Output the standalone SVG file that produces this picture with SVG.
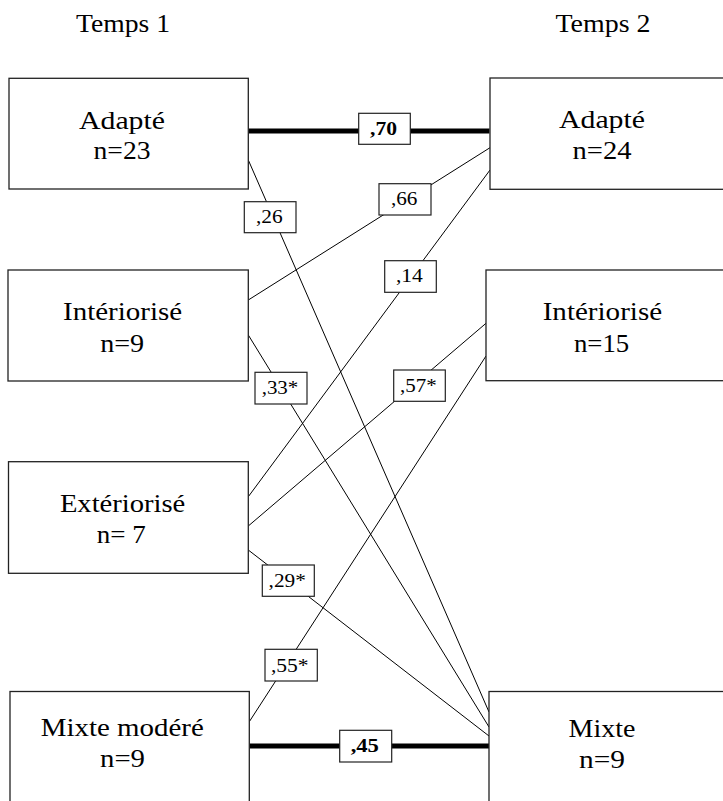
<svg xmlns="http://www.w3.org/2000/svg" width="723" height="801" viewBox="0 0 723 801">
<style>
.box{fill:#fff;stroke:#222;stroke-width:1.3}
.lbl{fill:#fff;stroke:#222;stroke-width:1.2}
.t{font-size:26px;fill:#000;text-anchor:middle}
.v{font-size:19.5px;fill:#000;text-anchor:middle}
.b{font-weight:bold}
.thin{stroke:#000;stroke-width:1;fill:none}
.thick{stroke:#000;stroke-width:5;fill:none}
</style>
<rect width="723" height="801" fill="#fff"/>
<g font-family="Liberation Serif, Times New Roman, serif">
<g id="headers">
<text class="t" x="123" y="32" textLength="94" lengthAdjust="spacingAndGlyphs">Temps 1</text>
<text class="t" x="603" y="32" textLength="95" lengthAdjust="spacingAndGlyphs">Temps 2</text>
</g>
<g id="connectors">
<line class="thick" x1="248.5" y1="131" x2="489.5" y2="131"/>
<line class="thick" x1="249.5" y1="746" x2="489" y2="746"/>
<line class="thin" x1="248.3" y1="160" x2="489" y2="712"/>
<line class="thin" x1="248.3" y1="335" x2="489" y2="727"/>
<line class="thin" x1="248.3" y1="550" x2="489" y2="736"/>
<line class="thin" x1="248.3" y1="300" x2="490" y2="147.7"/>
<line class="thin" x1="248.3" y1="496.7" x2="490" y2="170"/>
<line class="thin" x1="248.3" y1="526" x2="486" y2="323.3"/>
<line class="thin" x1="249.3" y1="721.7" x2="486" y2="356"/>
<g id="lbl70"><rect class="lbl" x="358.7" y="113.3" width="51.6" height="31"/><text class="v b" x="383.5" y="134.5" textLength="27" lengthAdjust="spacingAndGlyphs">,70</text></g>
<g id="lbl26"><rect class="lbl" x="244.3" y="201.7" width="51.7" height="31"/><text class="v" x="269.3" y="223" textLength="26.7" lengthAdjust="spacingAndGlyphs">,26</text></g>
<g id="lbl66"><rect class="lbl" x="379" y="183.7" width="52" height="31.3"/><text class="v" x="404.2" y="205.2" textLength="26.5" lengthAdjust="spacingAndGlyphs">,66</text></g>
<g id="lbl14"><rect class="lbl" x="384.7" y="260.7" width="51.6" height="31.6"/><text class="v" x="409.4" y="282" textLength="27" lengthAdjust="spacingAndGlyphs">,14</text></g>
<g id="lbl33"><rect class="lbl" x="255" y="372.3" width="52" height="31.7"/><text class="v" x="280" y="394" textLength="36.7" lengthAdjust="spacingAndGlyphs">,33*</text></g>
<g id="lbl57"><rect class="lbl" x="393.7" y="370" width="51.6" height="31.3"/><text class="v" x="418.4" y="391.7" textLength="36.7" lengthAdjust="spacingAndGlyphs">,57*</text></g>
<g id="lbl29"><rect class="lbl" x="262.3" y="565" width="52" height="31.3"/><text class="v" x="287.2" y="587" textLength="37.3" lengthAdjust="spacingAndGlyphs">,29*</text></g>
<g id="lbl55"><rect class="lbl" x="265" y="649.3" width="52.3" height="31.7"/><text class="v" x="289.8" y="671.5" textLength="37.7" lengthAdjust="spacingAndGlyphs">,55*</text></g>
<g id="lbl45"><rect class="lbl" x="339.7" y="730.3" width="52" height="31.7"/><text class="v b" x="364.8" y="751.7" textLength="28.3" lengthAdjust="spacingAndGlyphs">,45</text></g>
</g>
<g id="t1-adapte">
<rect class="box" x="9" y="78.3" width="239.3" height="110.7"/>
<text class="t" x="122" y="128.5" textLength="86" lengthAdjust="spacingAndGlyphs">Adapté</text>
<text class="t" x="122" y="159.3" textLength="57" lengthAdjust="spacingAndGlyphs">n=23</text>
</g>
<g id="t1-interiorise">
<rect class="box" x="8" y="270" width="240.3" height="111"/>
<text class="t" x="122.6" y="320" textLength="119" lengthAdjust="spacingAndGlyphs">Intériorisé</text>
<text class="t" x="122.2" y="351.5" textLength="44" lengthAdjust="spacingAndGlyphs">n=9</text>
</g>
<g id="t1-exteriorise">
<rect class="box" x="8.5" y="461.7" width="239.8" height="111.6"/>
<text class="t" x="122.6" y="511.7" textLength="125.4" lengthAdjust="spacingAndGlyphs">Extériorisé</text>
<text class="t" x="121.2" y="543.3" textLength="49" lengthAdjust="spacingAndGlyphs">n= 7</text>
</g>
<g id="t1-mixte-modere">
<rect class="box" x="10" y="691.5" width="239.3" height="130"/>
<text class="t" x="122.3" y="736" textLength="163" lengthAdjust="spacingAndGlyphs">Mixte modéré</text>
<text class="t" x="122.5" y="766.7" textLength="45" lengthAdjust="spacingAndGlyphs">n=9</text>
</g>
<g id="t2-adapte">
<rect class="box" x="490" y="78" width="250" height="111.3"/>
<text class="t" x="602" y="127.5" textLength="86" lengthAdjust="spacingAndGlyphs">Adapté</text>
<text class="t" x="602" y="158.5" textLength="59" lengthAdjust="spacingAndGlyphs">n=24</text>
</g>
<g id="t2-interiorise">
<rect class="box" x="486" y="270" width="250" height="110.7"/>
<text class="t" x="602.4" y="320" textLength="119.4" lengthAdjust="spacingAndGlyphs">Intériorisé</text>
<text class="t" x="601.6" y="351.5" textLength="55.3" lengthAdjust="spacingAndGlyphs">n=15</text>
</g>
<g id="t2-mixte">
<rect class="box" x="489" y="691.5" width="250" height="130"/>
<text class="t" x="602" y="736.5" textLength="66.8" lengthAdjust="spacingAndGlyphs">Mixte</text>
<text class="t" x="602" y="767.5" textLength="46" lengthAdjust="spacingAndGlyphs">n=9</text>
</g>
</g>
</svg>
